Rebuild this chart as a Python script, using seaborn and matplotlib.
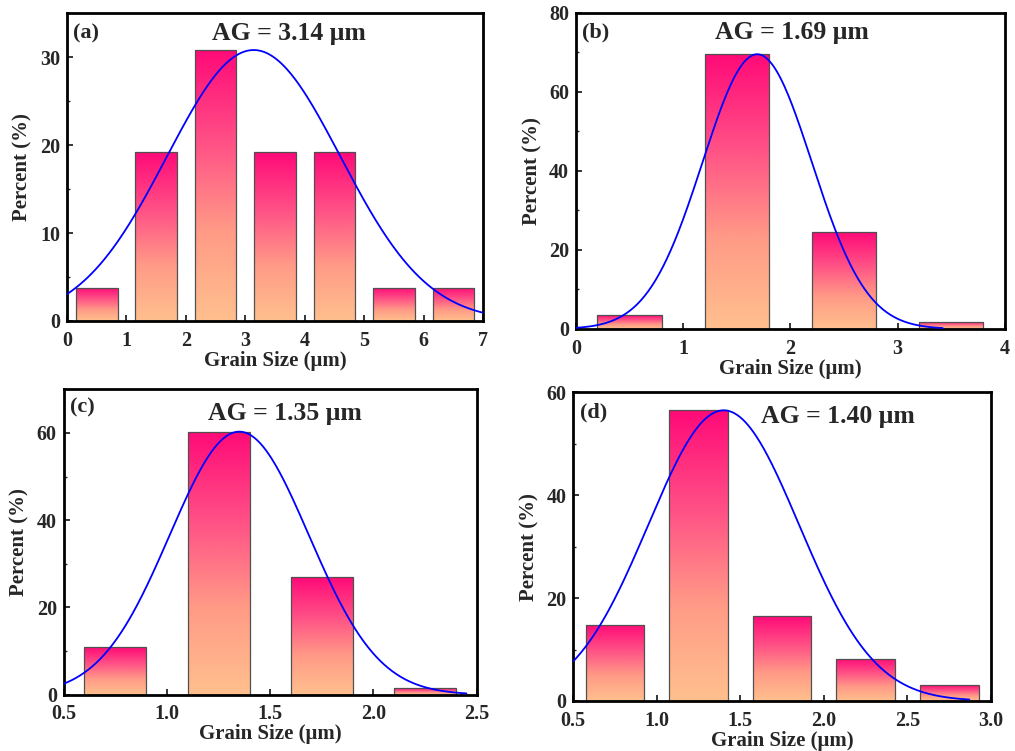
import numpy as np
import pandas as pd
import matplotlib
matplotlib.use("Agg")
import matplotlib.pyplot as plt
from matplotlib.colors import LinearSegmentedColormap
from matplotlib.ticker import MultipleLocator, FormatStrFormatter
import seaborn as sns

# Bin centres and percentages
centers_a = [0.5, 1.5, 2.5, 3.5, 4.5, 5.5, 6.5]
percent_a = [3.8, 19.2, 30.8, 19.2, 19.2, 3.8, 3.8]
centers_b = [0.5, 1.5, 2.5, 3.5]
percent_b = [3.5, 69.5, 24.5, 1.8]
centers_c = [0.75, 1.25, 1.75, 2.25]
percent_c = [11.0, 60.3, 27.0, 1.6]
centers_d = [0.75, 1.25, 1.75, 2.25, 2.75]
percent_d = [14.8, 56.5, 16.5, 8.2, 3.1]

# Normal fit parameters (mean, sigma, peak) and the span of each fitted curve
fit_mean = [3.14, 1.69, 1.35, 1.40]
fit_sigma = [1.46, 0.51, 0.337, 0.451]
fit_peak = [30.8, 69.5, 60.3, 56.5]
fit_span = [(0, 7), (0, 3.42), (0.5, 2.45), (0.5, 2.87)]

panel_tags = ["(a)", "(b)", "(c)", "(d)"]
ag_labels = ["AG = 3.14 \u03bcm", "AG = 1.69 \u03bcm", "AG = 1.35 \u03bcm", "AG = 1.40 \u03bcm"]

sns.set_style("ticks")
plt.rcParams["font.family"] = ["Liberation Serif", "DejaVu Serif"]
plt.rcParams["font.weight"] = "bold"
plt.rcParams["axes.labelweight"] = "bold"

cmap = LinearSegmentedColormap.from_list("grad", ["#ffc08e", "#ff9a86", "#ff4f86", "#ff0a78"])
grad = np.linspace(0, 1, 256).reshape(-1, 1)

fig = plt.figure(figsize=(10.15, 7.51), dpi=100)
# axes boxes [left, bottom, width, height]
boxes = [
    [0.066, 0.5726, 0.410, 0.410],
    [0.5675, 0.562, 0.4225, 0.421],
    [0.0628, 0.075, 0.4069, 0.4066],
    [0.5648, 0.0666, 0.4116, 0.411],
]
panels = [
    (centers_a, percent_a, 0.7, (0, 7), (0, 35), 1, 10, "%d", 0.5, 5),
    (centers_b, percent_b, 0.6, (0, 4), (0, 80), 1, 20, "%d", 0.5, 10),
    (centers_c, percent_c, 0.6, (0.5, 2.5), (0, 70), 0.5, 20, "%.1f", 0.25, 10),
    (centers_d, percent_d, 0.7, (0.5, 3.0), (0, 60), 0.5, 20, "%.1f", 0.25, 10),
]
tag_pos = [(0.015, 0.935), (0.014, 0.937), (0.015, 0.942), (0.016, 0.936)]
ag_pos = [(0.534, 0.935), (0.503, 0.937), (0.536, 0.922), (0.634, 0.921)]

for i, (cx, pc, w, xl, yl, xmaj, ymaj, fmt, xmin, ymin) in enumerate(panels):
    ax = fig.add_axes(boxes[i])
    df = pd.DataFrame({"size": cx, "pct": pc})
    sns.barplot(data=df, x="size", y="pct", native_scale=True, width=w,
                color="white", edgecolor="#505050", linewidth=0.9, ax=ax, zorder=2)
    # gradient fill clipped to each bar
    for p in ax.patches:
        x0, y0 = p.get_x(), p.get_y()
        x1, y1 = x0 + p.get_width(), y0 + p.get_height()
        im = ax.imshow(grad, extent=[x0, x1, y0, y1], origin="lower", cmap=cmap,
                       aspect="auto", zorder=1.5, interpolation="bicubic")
        im.set_clip_path(p)
        p.set_facecolor("none")

    xs = np.linspace(fit_span[i][0], fit_span[i][1], 300)
    ys = fit_peak[i] * np.exp(-(xs - fit_mean[i]) ** 2 / (2 * fit_sigma[i] ** 2))
    sns.lineplot(x=xs, y=ys, color="#0000ff", lw=1.3, ax=ax, zorder=3)

    ax.set_xlim(*xl)
    ax.set_ylim(*yl)
    ax.xaxis.set_major_locator(MultipleLocator(xmaj))
    ax.xaxis.set_minor_locator(MultipleLocator(xmin))
    ax.yaxis.set_major_locator(MultipleLocator(ymaj))
    ax.yaxis.set_minor_locator(MultipleLocator(ymin))
    ax.xaxis.set_major_formatter(FormatStrFormatter(fmt))
    ax.tick_params(which="major", direction="in", length=4, width=1.3, labelsize=14.5)
    ax.tick_params(axis="x", which="major", pad=7)
    ax.tick_params(axis="y", which="major", pad=5)
    ax.tick_params(which="minor", direction="in", length=2, width=1.0)
    for s in ax.spines.values():
        s.set_linewidth(2.0)
        s.set_color("black")
    ax.set_xlabel("Grain Size (\u03bcm)", fontsize=15, labelpad=0)
    ax.set_ylabel("Percent (%)", fontsize=15, labelpad=5)
    ax.text(*tag_pos[i], panel_tags[i], transform=ax.transAxes, fontsize=16,
            fontweight="bold", ha="left", va="center")
    ax.text(*ag_pos[i], ag_labels[i], transform=ax.transAxes, fontsize=18.5,
            fontweight="bold", ha="center", va="center")

fig.savefig("out.png", dpi=100)
